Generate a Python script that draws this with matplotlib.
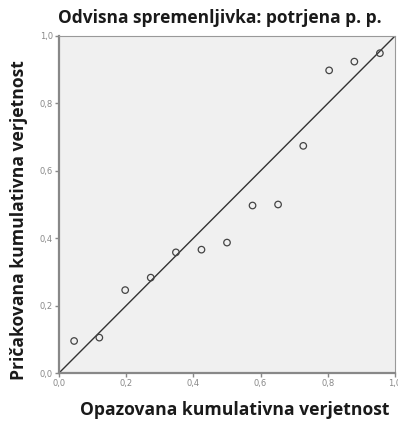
import numpy as np
import matplotlib.pyplot as plt

# Podatki (odčitano s slike)
opazovana = [0.045, 0.120, 0.197, 0.273, 0.348, 0.424, 0.500, 0.576, 0.652, 0.727, 0.804, 0.879, 0.955]
pricakovana = [0.095, 0.105, 0.246, 0.283, 0.358, 0.366, 0.387, 0.497, 0.500, 0.674, 0.898, 0.924, 0.949]
ticks = [0.0, 0.2, 0.4, 0.6, 0.8, 1.0]
tick_labels = ["0,0", "0,2", "0,4", "0,6", "0,8", "1,0"]

fig = plt.figure(figsize=(3.98, 4.25), dpi=100)
ax = fig.add_axes([59/398, 1 - 373/425, 336/398, 337/425])
ax.set_facecolor("#f0f0f0")

ax.plot([0, 1], [0, 1], color="#333333", lw=1.0)
ax.scatter(opazovana, pricakovana, s=22, facecolors="none", edgecolors="#444444", linewidths=0.9, zorder=3)

ax.set_xlim(0, 1)
ax.set_ylim(0, 1)
ax.set_xticks(ticks)
ax.set_yticks(ticks)
ax.set_xticklabels(tick_labels)
ax.set_yticklabels(tick_labels)
ax.tick_params(labelsize=6, colors="#888888", length=3, width=1, pad=1.5)

for s in ["left", "bottom"]:
    ax.spines[s].set_color("#888888")
    ax.spines[s].set_linewidth(1.6)
for s in ["top", "right"]:
    ax.spines[s].set_color("#999999")
    ax.spines[s].set_linewidth(0.8)

fig.text(220/398, 1 - 18/425, "Odvisna spremenljivka: potrjena p. p.", ha="center", va="center",
         fontsize=12.5, fontweight="bold", family="Open Sans", color="#1a1a1a")
fig.text(235/398, 1 - 410/425, "Opazovana kumulativna verjetnost", ha="center", va="center",
         fontsize=12.6, fontweight="bold", family="Open Sans", color="#1a1a1a")
fig.text(19/398, 1 - 220/425, "Pričakovana kumulativna verjetnost", ha="center", va="center",
         rotation=90, fontsize=12.6, fontweight="bold", family="Open Sans", color="#1a1a1a")

fig.savefig("out.png", dpi=100, facecolor="white")
